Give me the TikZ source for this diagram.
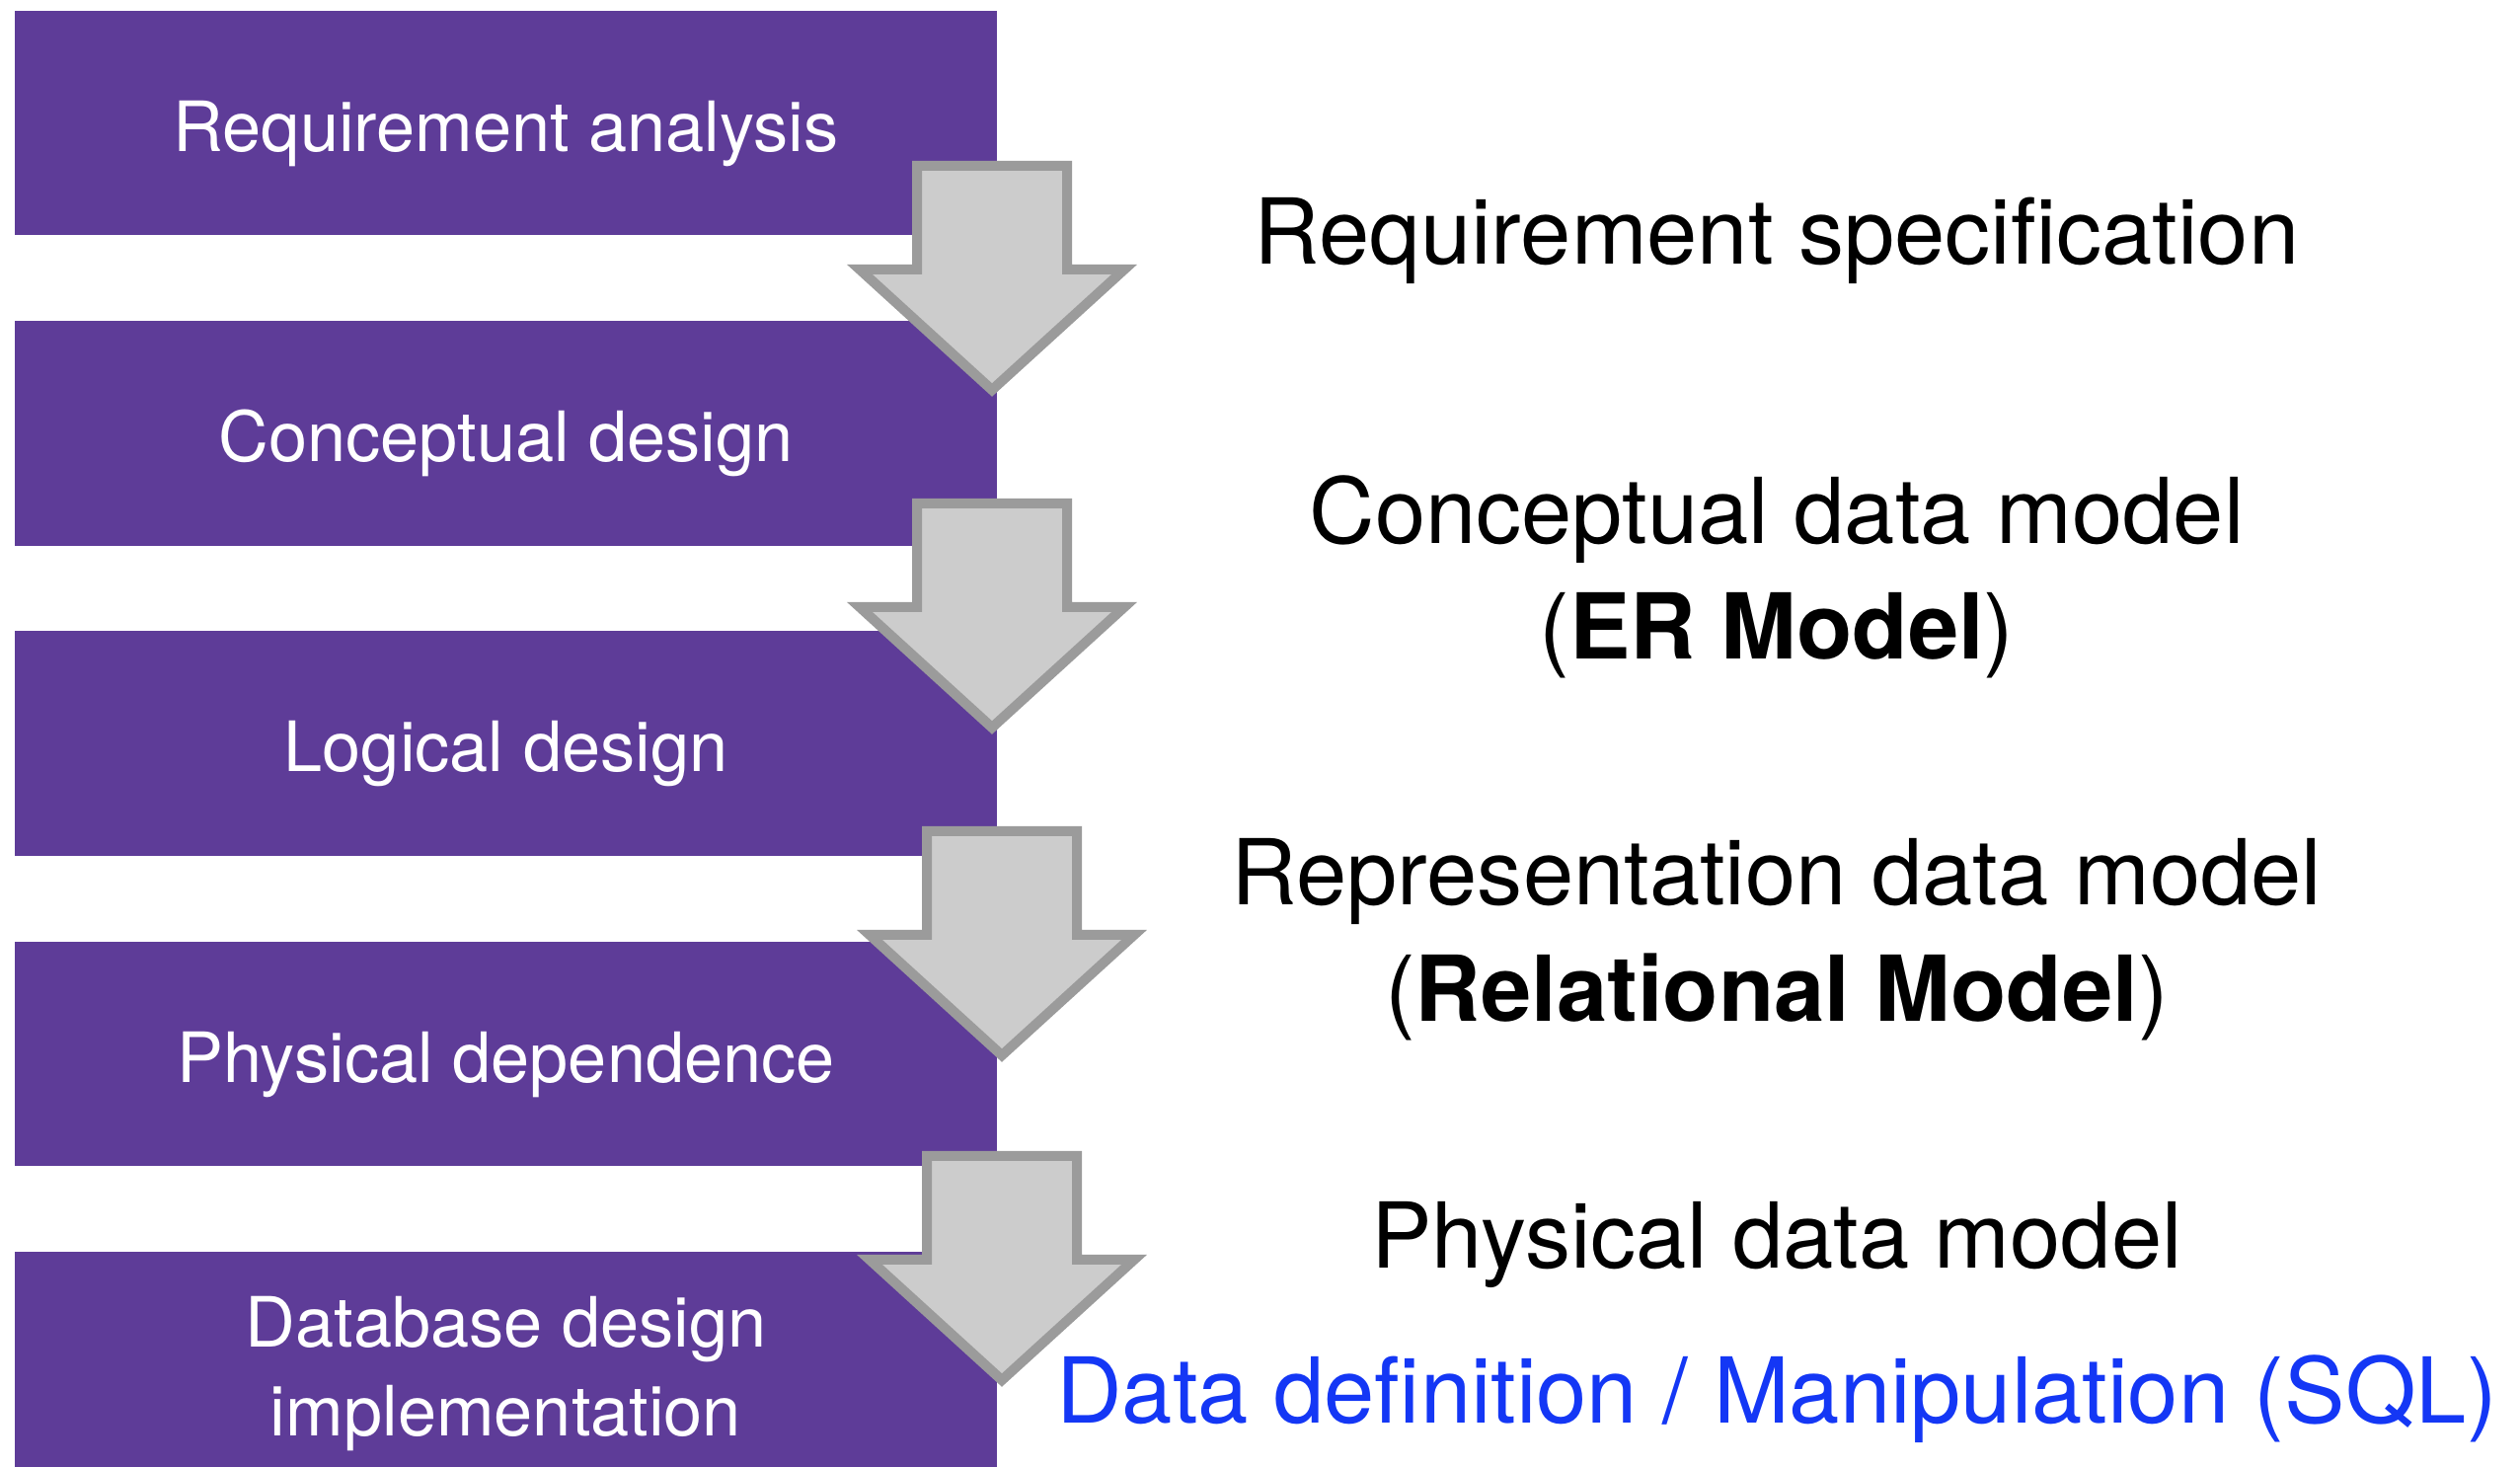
\documentclass[tikz,border=0pt]{standalone}
\usepackage{fontspec}
\setmainfont{TeX Gyre Heros}
\usepackage{xcolor}
\usepackage{tikz}
\usetikzlibrary{positioning}
\definecolor{stagepurple}{RGB}{94,60,152}
\definecolor{arrowfill}{RGB}{204,204,204}
\definecolor{arrowline}{RGB}{155,155,155}
\definecolor{sqlblue}{RGB}{20,55,245}

\begin{document}
\begin{tikzpicture}[x=0.01cm, y=-0.01cm,
  stagebox/.style={rectangle, fill=stagepurple, text=white, inner sep=0pt,
    minimum width=9.95cm, minimum height=2.27cm,
    font=\fontsize{20}{25.6}\selectfont, text height=0.6cm, text depth=0.03cm},
  modeltext/.style={anchor=base, font=\fontsize{26.2}{33}\selectfont},
  blockarrow/.style={fill=arrowfill, draw=arrowline, line width=0.1cm}]
  \useasboundingbox (0,0) rectangle (2553,1486);

  % Design stages
  \node[stagebox] (req) at (512.5,124.5) {Requirement analysis};
  \node[stagebox] (concept) at (512.5,439) {Conceptual design};
  \node[stagebox] (logic) at (512.5,753) {Logical design};
  \node[stagebox] (phys) at (512.5,1067.5) {Physical dependence};
  \node[stagebox, minimum height=2.18cm] (impl) at (512.5,1377) {};
  \node[text=white, align=center, font=\fontsize{20}{25.6}\selectfont] (impltext) at (512.5,1392) {Database design\\implementation};

  % Resulting models
  \node[modeltext] (spec) at (1800,268) {Requirement specification};
  \node[modeltext] (cdm) at (1800,551) {Conceptual data model};
  \node[modeltext] (cdmer) at (1800,668) {(\textbf{ER Model})};
  \node[modeltext] (rdm) at (1800,917) {Representation data model};
  \node[modeltext] (rdmrel) at (1800,1035) {(\textbf{Relational Model})};
  \node[modeltext] (pdm) at (1800,1285) {Physical data model};
  \node[modeltext, text=sqlblue] (sql) at (1800,1442) {Data definition / Manipulation (SQL)};

  % Block arrows between stages
  \foreach \cx/\ty in {1005/163, 1005/505, 1015/837, 1015/1166}
    \draw[blockarrow] (\cx-76,\ty+5) -- (\cx+76,\ty+5) -- (\cx+76,\ty+110)
      -- (\cx+134,\ty+110) -- (\cx,\ty+232) -- (\cx-134,\ty+110)
      -- (\cx-76,\ty+110) -- cycle;
\end{tikzpicture}
\end{document}
